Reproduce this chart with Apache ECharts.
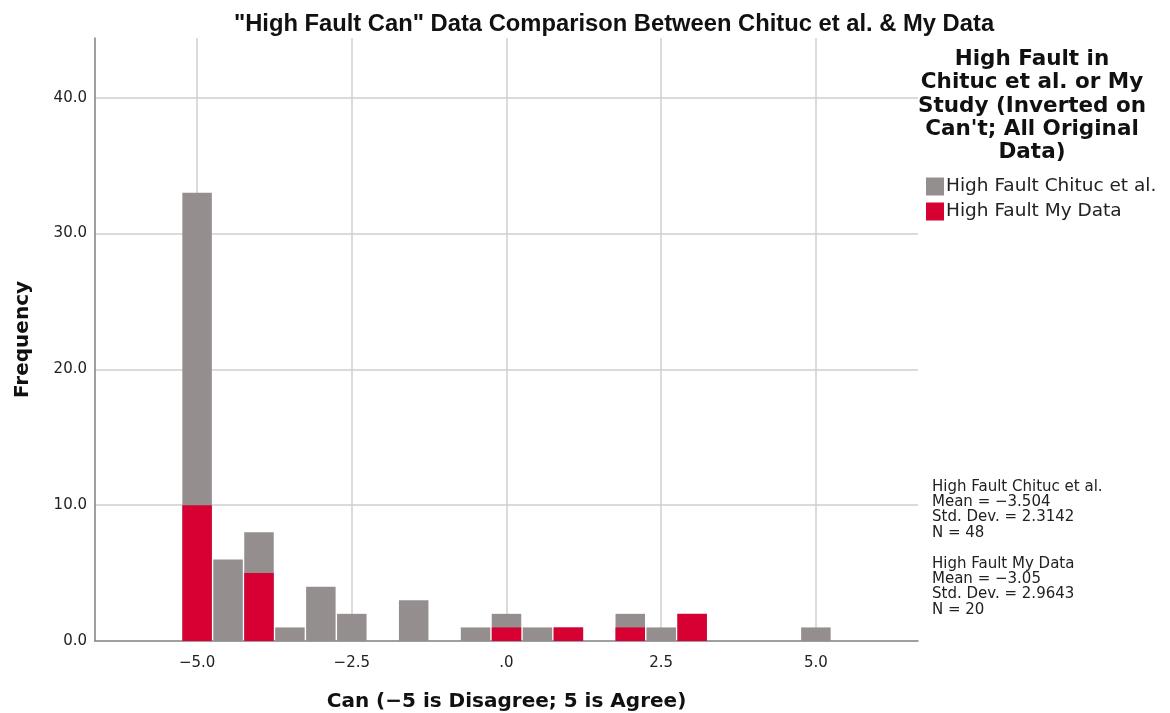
<!DOCTYPE html>
<html><head><meta charset="utf-8">
<script src="https://cdn.jsdelivr.net/npm/echarts@6/dist/echarts.min.js"></script>
<style>html,body{margin:0;padding:0;background:#fff}#c{width:1170px;height:713px}</style>
</head><body><div id="c"></div><script>
const binCenters = [-5,-4.5,-4,-3.5,-3,-2.5,-2,-1.5,-1,-0.5,0,0.5,1,1.5,2,2.5,3,3.5,4,4.5,5];
const chitucCounts = [23,6,3,1,4,2,0,3,0,1,1,1,0,0,1,1,0,0,0,0,1];
const myDataCounts = [10,0,5,0,0,0,0,0,0,0,1,0,1,0,1,0,2,0,0,0,0];
const xTicks = [-5,-2.5,0,2.5,5];
const xTickLabels = ['\u22125.0','\u22122.5','.0','2.5','5.0'];
const yTicks = [0,10,20,30,40];
const yTickLabels = ['0.0','10.0','20.0','30.0','40.0'];
const seriesNames = ['High Fault Chituc et al.','High Fault My Data'];
const chartTitle = '"High Fault Can" Data Comparison Between Chituc et al. & My Data';
const xTitle = 'Can (\u22125 is Disagree; 5 is Agree)';
const yTitle = 'Frequency';
const legendTitle = ["High Fault in","Chituc et al. or My","Study (Inverted on","Can't; All Original","Data)"];
const statsChituc = ['High Fault Chituc et al.','Mean = \u22123.504','Std. Dev. = 2.3142','N = 48'];
const statsMine = ['High Fault My Data','Mean = \u22123.05','Std. Dev. = 2.9643','N = 20'];

// stacked histogram: gray column shows the combined count, red part sits at the bottom
const stackedTotals = binCenters.map((x,i)=>chitucCounts[i]+myDataCounts[i]);

const GRAY = '#948f8e', RED = '#d70032';
const chart = echarts.init(document.getElementById('c'), null, {renderer:'canvas'});
const labelFont = {fontFamily:'DejaVu Sans', fontSize:15, color:'#222'};
const option = {
  animation:false,
  backgroundColor:'#fff',
  title:{text:chartTitle, left:609, textAlign:'center', top:7,
    textStyle:{fontFamily:'Liberation Sans', fontWeight:'bold', fontSize:23.75, color:'#111'}},
  grid:{left:95, right:252, top:38, bottom:72, containLabel:false, outerBoundsMode:'none'},
  xAxis:{type:'value', min:-6.65, max:6.65,
    name:xTitle, nameLocation:'middle', nameGap:51,
    nameTextStyle:{fontFamily:'DejaVu Sans', fontWeight:'bold', fontSize:20, color:'#111'},
    axisLine:{show:true, onZero:false, lineStyle:{color:'#808080', width:1.5}},
    axisTick:{show:false, customValues:xTicks},
    splitLine:{show:false},
    axisLabel:Object.assign({customValues:xTicks, margin:15,
      formatter:v=>{const i=xTicks.findIndex(t=>Math.abs(t-v)<1e-6);return i>=0?xTickLabels[i]:'';}}, labelFont)},
  yAxis:{type:'value', min:0, max:44.4,
    name:yTitle, nameLocation:'middle', nameGap:62,
    nameTextStyle:{fontFamily:'DejaVu Sans', fontWeight:'bold', fontSize:20, color:'#111'},
    axisLine:{show:true, onZero:false, lineStyle:{color:'#808080', width:1.5}},
    axisTick:{show:false, customValues:yTicks},
    splitLine:{show:false},
    axisLabel:Object.assign({customValues:yTicks, margin:8, padding:[8,0,0,0],
      formatter:v=>{const i=yTicks.findIndex(t=>Math.abs(t-v)<1e-6);return i>=0?yTickLabels[i]:'';}}, labelFont)},
  legend:{orient:'vertical', left:921, top:172, itemWidth:18, itemHeight:18, itemGap:6, icon:'rect',
    data:seriesNames, selectedMode:false,
    textStyle:{fontFamily:'DejaVu Sans', fontSize:18.5, color:'#222', padding:[0,0,0,-3]}},
  graphic:[
    {type:'text', x:1032, y:48, style:{text:legendTitle.join('\n'), align:'center', verticalAlign:'top',
      font:'bold 21.5px "DejaVu Sans"', lineHeight:23.2, fill:'#111'}},
    {type:'text', x:932, y:479, style:{text:statsChituc.join('\n')+'\n\n'+statsMine.join('\n'),
      font:'15px "DejaVu Sans"', lineHeight:15.4, fill:'#222'}}
  ],
  series:[
    {name:'grid', type:'line', data:[], z:0, silent:true,
      markLine:{silent:true, symbol:'none', z:0, animation:false, label:{show:false},
        lineStyle:{color:'#cfcfcf', width:1.5, type:'solid'},
        data:xTicks.map(v=>({xAxis:v})).concat(yTicks.filter(v=>v>0).map(v=>({yAxis:v})))}},
    {name:seriesNames[0], type:'bar', barWidth:29.5, barGap:'-100%', z:3,
      itemStyle:{color:GRAY}, data:binCenters.map((x,i)=>[x,stackedTotals[i]])},
    {name:seriesNames[1], type:'bar', barWidth:29.5, barGap:'-100%', z:4,
      itemStyle:{color:RED}, data:binCenters.map((x,i)=>[x,myDataCounts[i]])}
  ]
};
chart.setOption(option);
</script></body></html>
